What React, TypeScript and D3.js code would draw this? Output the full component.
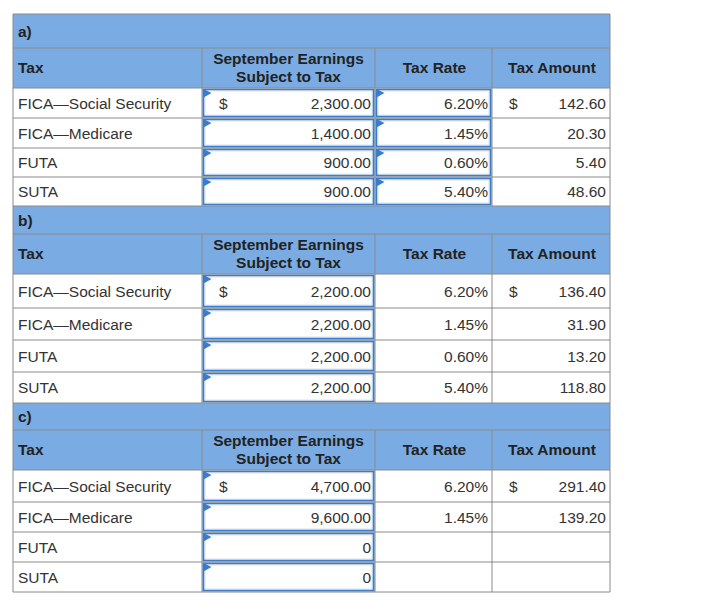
import React from "react";
import * as d3 from "d3";

const sectionLabels = ["a)", "b)", "c)"];
const columnHeaders = [["Tax"], ["September Earnings", "Subject to Tax"], ["Tax Rate"], ["Tax Amount"]];
const taxes = ["FICA\u2014Social Security", "FICA\u2014Medicare", "FUTA", "SUTA"];

const earningsA = [2300, 1400, 900, 900];
const ratesA = [6.2, 1.45, 0.6, 5.4];
const amountsA = [142.6, 20.3, 5.4, 48.6];

const earningsB = [2200, 2200, 2200, 2200];
const ratesB = [6.2, 1.45, 0.6, 5.4];
const amountsB = [136.4, 31.9, 13.2, 118.8];

const earningsC = [4700, 9600, 0, 0];
const ratesC: (number | null)[] = [6.2, 1.45, null, null];
const amountsC: (number | null)[] = [291.4, 139.2, null, null];

const sections = [
  { label: sectionLabels[0], earnings: earningsA, rates: ratesA, amounts: amountsA, rateInputs: true, labelH: 34, rowH: [30, 30, 29, 29] },
  { label: sectionLabels[1], earnings: earningsB, rates: ratesB, amounts: amountsB, rateInputs: false, labelH: 28, rowH: [34, 32, 32, 31] },
  { label: sectionLabels[2], earnings: earningsC, rates: ratesC, amounts: amountsC, rateInputs: false, labelH: 27, rowH: [32, 30, 30, 30] },
];

const colEdges = [13, 202, 375, 492, 610];
const TOP = 14;
const HEADER_H = 40;
const FONT = "'Liberation Sans', Arial, sans-serif";
const FS = 15.5;
const BLUE = "#7aace3";
const GRID = "#8a8a8a";
const BOX = "#3e7cc6";
const TXT = "#333333";

const fmtMoney = d3.format(",.2f");
const fmtRate = d3.format(".2f");

export default function App() {
  const x = d3.scaleOrdinal<number, number>().domain([0, 1, 2, 3, 4]).range(colEdges);
  const els: React.ReactNode[] = [];
  let y = TOP;
  const hLines: number[] = [TOP];
  sections.forEach((s, si) => {
    // label row
    els.push(<rect key={`lab${si}`} x={x(0)} y={y} width={x(4) - x(0)} height={s.labelH} fill={BLUE} />);
    els.push(
      <text key={`labt${si}`} x={x(0) + 5} y={y + s.labelH / 2 + 5.5} fontWeight="bold" fill="#222">
        {s.label}
      </text>
    );
    y += s.labelH;
    hLines.push(y);
    // header row
    els.push(<rect key={`hdr${si}`} x={x(0)} y={y} width={x(4) - x(0)} height={HEADER_H} fill={BLUE} />);
    columnHeaders.forEach((lines, ci) => {
      const cx = ci === 0 ? x(0) + 5 : (x(ci) + x(ci + 1)) / 2 + (ci === 1 ? 0 : 1);
      const anchor = ci === 0 ? "start" : "middle";
      const mid = y + HEADER_H / 2;
      lines.forEach((ln, li) => {
        const by = lines.length === 1 ? mid + 5 : mid - 4 + li * 17.5;
        els.push(
          <text key={`h${si}-${ci}-${li}`} x={cx} y={by} textAnchor={anchor} fontWeight="bold" fill="#222">
            {ln}
          </text>
        );
      });
    });
    for (let ci = 1; ci < 4; ci++) {
      els.push(<line key={`hv${si}-${ci}`} x1={x(ci)} x2={x(ci)} y1={y} y2={y + HEADER_H} stroke={GRID} />);
    }
    y += HEADER_H;
    hLines.push(y);
    // data rows
    taxes.forEach((t, ri) => {
      const h = s.rowH[ri];
      const mid = y + h / 2;
      const base = mid + 5.5;
      for (let ci = 1; ci < 4; ci++) {
        els.push(<line key={`v${si}-${ri}-${ci}`} x1={x(ci)} x2={x(ci)} y1={y} y2={y + h} stroke={GRID} />);
      }
      const inputCols = s.rateInputs ? [1, 2] : [1];
      inputCols.forEach((ci) => {
        const bx = x(ci) + 1.5;
        const byy = y + 1.5;
        const bw = x(ci + 1) - x(ci) - 3;
        const bh = h - 3;
        els.push(<rect key={`b${si}-${ri}-${ci}`} x={bx} y={byy} width={bw} height={bh} fill="#fff" stroke={BOX} strokeWidth={2} />);
        els.push(<rect key={`bi${si}-${ri}-${ci}`} x={bx + 1.5} y={byy + 1.5} width={bw - 3} height={bh - 3} fill="none" stroke="#d6e4f5" strokeWidth={1} />);
        els.push(
          <polygon
            key={`tri${si}-${ri}-${ci}`}
            points={`${bx},${byy - 0.5} ${bx + 8},${byy + 3.5} ${bx},${byy + 8}`}
            fill="#3a7bd0"
          />
        );
      });
      els.push(<text key={`t${si}-${ri}`} x={x(0) + 5} y={base} fill={TXT}>{t}</text>);
      if (ri === 0) {
        els.push(<text key={`d1${si}`} x={x(1) + 17} y={base} fill={TXT}>$</text>);
      }
      const e = s.earnings[ri];
      els.push(
        <text key={`e${si}-${ri}`} x={x(2) - 4} y={base} textAnchor="end" fill={TXT}>
          {e === 0 ? "0" : fmtMoney(e)}
        </text>
      );
      const r = s.rates[ri];
      if (r !== null) {
        els.push(
          <text key={`r${si}-${ri}`} x={x(3) - 4} y={base} textAnchor="end" fill={TXT}>
            {fmtRate(r) + "%"}
          </text>
        );
      }
      const a = s.amounts[ri];
      if (ri === 0 && a !== null) {
        els.push(<text key={`d2${si}`} x={x(3) + 17} y={base} fill={TXT}>$</text>);
      }
      if (a !== null) {
        els.push(
          <text key={`a${si}-${ri}`} x={x(4) - 4} y={base} textAnchor="end" fill={TXT}>
            {fmtMoney(a)}
          </text>
        );
      }
      y += h;
      hLines.push(y);
    });
  });

  return (
    <svg
      width={723}
      height={616}
      style={{ position: "absolute", left: 0, top: 0, background: "#fff" }}
      fontFamily={FONT}
      fontSize={FS}
    >
      <rect x={0} y={0} width={723} height={616} fill="#fff" />
      {els}
      {hLines.map((hy, i) => (
        <line key={`hl${i}`} x1={x(0)} x2={x(4)} y1={hy} y2={hy} stroke={GRID} />
      ))}
      <line x1={x(0)} x2={x(0)} y1={TOP} y2={y} stroke={GRID} />
      <line x1={x(4)} x2={x(4)} y1={TOP} y2={y} stroke={GRID} />
    </svg>
  );
}
